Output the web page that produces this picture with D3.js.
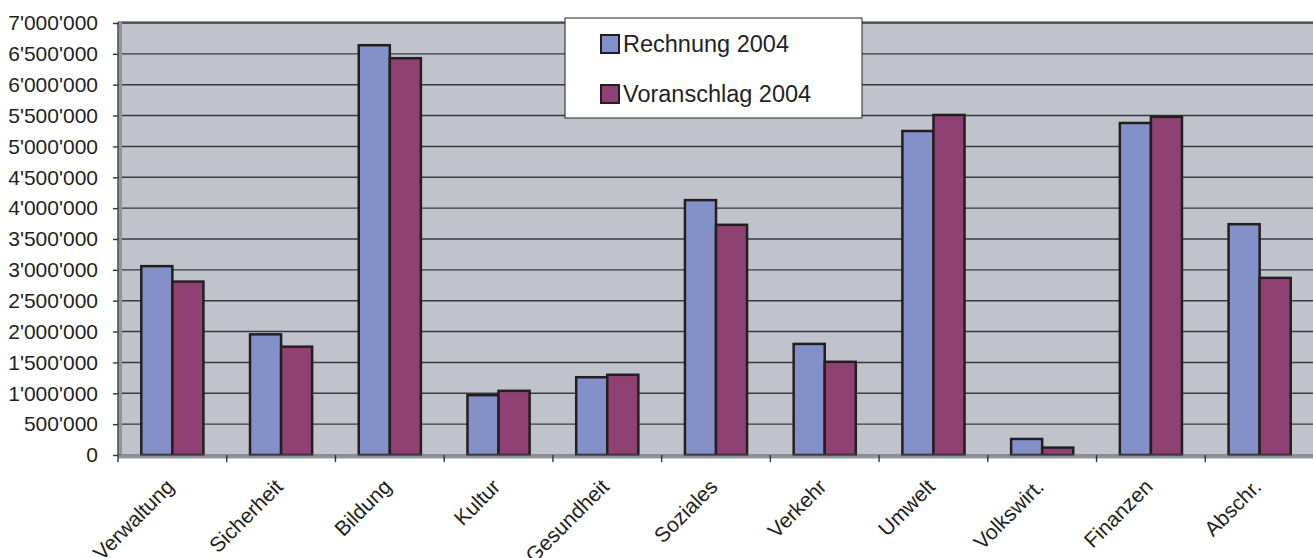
<!DOCTYPE html>
<html>
<head>
<meta charset="utf-8">
<script src="https://cdn.jsdelivr.net/npm/d3@7"></script>
<style>
  body { margin: 0; background: #fff; }
  svg { display: block; font-family: "Liberation Sans", Arial, sans-serif; }
</style>
</head>
<body>
<div id="chart"></div>
<script>
const categories = ["Verwaltung", "Sicherheit", "Bildung", "Kultur", "Gesundheit", "Soziales",
  "Verkehr", "Umwelt", "Volkswirt.", "Finanzen", "Abschr."]
const seriesNames = ["Rechnung 2004", "Voranschlag 2004"]
const rechnung = [3060000, 1955000, 6640000, 970000, 1260000, 4130000, 1800000, 5250000, 260000, 5380000, 3740000]
const voranschlag = [2810000, 1755000, 6430000, 1040000, 1300000, 3730000, 1510000, 5510000, 120000, 5480000, 2870000]
const yTicks = d3.range(0, 7000001, 500000)

const colors = ["#8491c9", "#8e4172"]

const width = 1313
const height = 558
const plotLeft = 118, plotRight = 1314, plotTop = 23, plotBottom = 455

const svg = d3.select("#chart").append("svg")
  .attr("width", width)
  .attr("height", height)

const x = d3.scaleBand().domain(categories).range([plotLeft, plotRight])
const y = d3.scaleLinear().domain([0, 7000000]).range([plotBottom, plotTop])
const barW = x.bandwidth() / 3.5
const fmt = d3.formatLocale({ decimal: ".", thousands: "'", grouping: [3], currency: ["", ""] }).format(",")

// plot background
svg.append("rect")
  .attr("x", plotLeft).attr("y", plotTop - 1)
  .attr("width", plotRight - plotLeft).attr("height", plotBottom - plotTop + 1)
  .style("fill", "#c0c3cb")
svg.append("line")
  .attr("x1", plotLeft).attr("x2", plotRight).attr("y1", plotTop - 1).attr("y2", plotTop - 1)
  .style("stroke", "#8f959b").style("stroke-width", 2)

// gridlines
svg.selectAll(".grid")
  .data(yTicks.filter(d => d > 0)).enter().append("line")
  .attr("x1", plotLeft).attr("x2", plotRight)
  .attr("y1", d => y(d)).attr("y2", d => y(d))
  .style("stroke", "#3a3a3e").style("stroke-width", 1.4)

// y axis
const yAxis = svg.append("g")
  .attr("transform", `translate(${plotLeft},0)`)
  .call(d3.axisLeft(y).tickValues(yTicks).tickFormat(fmt).tickSize(5).tickPadding(15))
yAxis.select(".domain").remove()
yAxis.selectAll("line").style("stroke", "#333").style("stroke-width", 1.4)
yAxis.selectAll("text").style("font-size", "21px").style("fill", "#231f20")

svg.append("line")
  .attr("x1", plotLeft + 2.5).attr("x2", plotLeft + 2.5).attr("y1", plotTop - 1).attr("y2", plotBottom)
  .style("stroke", "#8f959b").style("stroke-width", 3)
svg.append("line")
  .attr("x1", plotLeft).attr("x2", plotLeft).attr("y1", plotTop - 1).attr("y2", plotBottom + 1)
  .style("stroke", "#444").style("stroke-width", 1.5)

// bars
const groups = svg.selectAll(".cat")
  .data(categories).enter().append("g")
  .attr("transform", c => `translate(${x(c) + x.bandwidth() / 2 - barW},0)`)

groups.selectAll("rect")
  .data((c, i) => [rechnung[i], voranschlag[i]]).enter().append("rect")
  .attr("x", (d, j) => j * barW)
  .attr("y", d => y(d))
  .attr("width", barW)
  .attr("height", d => plotBottom - y(d))
  .style("fill", (d, j) => colors[j])
  .style("stroke", "#231f20")
  .style("stroke-width", 2.5)

// x axis
svg.append("line")
  .attr("x1", plotLeft).attr("x2", plotRight).attr("y1", plotBottom + 2).attr("y2", plotBottom + 2)
  .style("stroke", "#8f959b").style("stroke-width", 3)
svg.append("line")
  .attr("x1", plotLeft).attr("x2", plotRight).attr("y1", plotBottom).attr("y2", plotBottom)
  .style("stroke", "#555").style("stroke-width", 1.2)

svg.selectAll(".xtick")
  .data(categories).enter().append("line")
  .attr("x1", c => x(c)).attr("x2", c => x(c))
  .attr("y1", plotBottom).attr("y2", plotBottom + 7)
  .style("stroke", "#333").style("stroke-width", 1.4)

svg.selectAll(".xlabel")
  .data(categories).enter().append("text")
  .attr("transform", c => `translate(${x(c) + x.bandwidth() / 2 + 3},${plotBottom + 33}) rotate(-45)`)
  .attr("text-anchor", "end")
  .style("font-size", "21px")
  .style("fill", "#231f20")
  .text(c => c)

// legend
const legend = svg.append("g").attr("transform", "translate(565,18)")
legend.append("rect")
  .attr("width", 297).attr("height", 100)
  .style("fill", "#fff").style("stroke", "#231f20").style("stroke-width", 1)

const items = legend.selectAll(".item")
  .data(seriesNames).enter().append("g")
  .attr("transform", (d, i) => `translate(36,${17 + i * 50})`)
items.append("rect")
  .attr("width", 18).attr("height", 18)
  .style("fill", (d, i) => colors[i])
  .style("stroke", "#231f20").style("stroke-width", 2)
items.append("text")
  .attr("x", 22).attr("y", 17)
  .style("font-size", "23.5px")
  .style("fill", "#231f20")
  .text(d => d)
</script>
</body>
</html>
